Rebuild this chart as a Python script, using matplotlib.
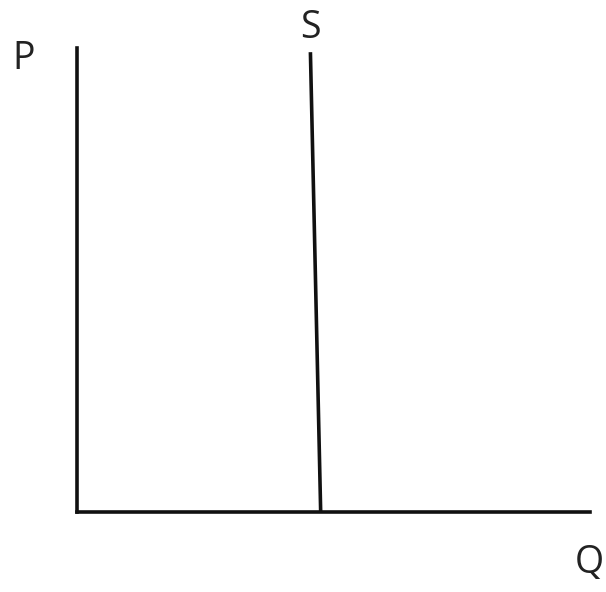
import matplotlib
matplotlib.use("Agg")
import matplotlib.pyplot as plt

# Data (quantity / price space, axes 0..10)
supply_q = [4.75, 4.55]
supply_p = [0.0, 9.91]
axis_labels = {"price": "P", "quantity": "Q", "supply": "S"}

W, H = 606, 592
fig = plt.figure(figsize=(W / 100, H / 100), dpi=100)
left, right, top, bottom = 77, 590, 48, 512
ax = fig.add_axes([left / W, 1 - bottom / H, (right - left) / W, (bottom - top) / H])
ax.set_xlim(0, 10)
ax.set_ylim(0, 10)
for s in ["top", "right"]:
    ax.spines[s].set_visible(False)
for s in ["left", "bottom"]:
    ax.spines[s].set_linewidth(2.6)
    ax.spines[s].set_color("#111111")
ax.set_xticks([])
ax.set_yticks([])
ax.patch.set_alpha(0)

ax.plot(supply_q, supply_p, color="#111111", lw=2.6, solid_capstyle="butt", clip_on=False)

font = dict(family=["Open Sans", "DejaVu Sans"], fontsize=27, color="#222222")
fig.text(24 / W, 1 - 59 / H, axis_labels["price"], ha="center", va="center", **font)
fig.text(310 / W, 1 - 28 / H, axis_labels["supply"], ha="center", va="center", **font)
fig.text(589 / W, 1 - 563 / H, axis_labels["quantity"], ha="center", va="center", **font)

fig.savefig("out.png", dpi=100)
